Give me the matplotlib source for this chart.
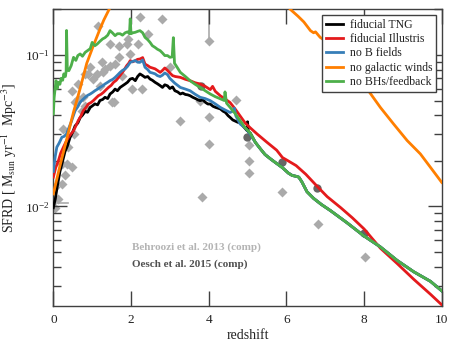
import numpy as np
import matplotlib
matplotlib.use("Agg")
import matplotlib.pyplot as plt

plt.rcParams['font.family'] = 'serif'
plt.rcParams['font.serif'] = ['Liberation Serif', 'DejaVu Serif']
plt.rcParams['mathtext.fontset'] = 'stix'

# ---------------- data ----------------
z_tng = [0.00, 0.05, 0.10, 0.17, 0.23, 0.30, 0.36, 0.43, 0.50, 0.56, 0.63, 0.69, 0.75, 0.82, 0.88,
         0.95, 1.01, 1.07, 1.14, 1.20, 1.27, 1.33, 1.40, 1.46, 1.53, 1.59, 1.65, 1.72, 1.78, 1.85,
         1.91, 1.98, 2.04, 2.11, 2.17, 2.23, 2.30, 2.36, 2.43, 2.49, 2.55, 2.62, 2.68, 2.75, 2.81,
         2.87, 2.94, 3.00, 3.07, 3.13, 3.20, 3.27, 3.33, 3.40, 3.46, 3.52, 3.59, 3.66, 3.72, 3.78,
         3.85, 3.92, 3.98, 4.04, 4.11, 4.18, 4.24, 4.30, 4.37, 4.43, 4.50, 4.56, 4.62, 4.69, 4.75,
         4.81, 4.88, 4.95, 4.99, 5.00, 5.02,
         5.07, 5.20, 5.33, 5.45, 5.60, 5.75, 5.90, 6.05, 6.15, 6.25, 6.32, 6.40, 6.53, 6.70, 6.90,
         7.13, 7.56, 7.99, 8.42, 8.85, 9.28, 9.71, 10.0]
sfrd_tng = [0.0098, 0.0112, 0.0135, 0.0170, 0.0195, 0.0230, 0.0250, 0.0285, 0.0310, 0.0340, 0.0355,
            0.0385, 0.0400, 0.0425, 0.0418, 0.0450, 0.0462, 0.0475, 0.0468, 0.0500, 0.0508, 0.0525,
            0.0515, 0.0552, 0.0570, 0.0595, 0.0580, 0.0610, 0.0625, 0.0643, 0.0660, 0.0693, 0.0700,
            0.0676, 0.0720, 0.0749, 0.0730, 0.0711, 0.0720, 0.0693, 0.0680, 0.0659, 0.0645, 0.0627,
            0.0610, 0.0635, 0.0625, 0.0600, 0.0615, 0.0580, 0.0570, 0.0552, 0.0560, 0.0548, 0.0545,
            0.0538, 0.0525, 0.0515, 0.0505, 0.0499, 0.0505, 0.0485, 0.0474, 0.0474, 0.0458, 0.0450,
            0.0445, 0.0440, 0.0425, 0.0417, 0.0397, 0.0385, 0.0372, 0.0365, 0.0359, 0.0359, 0.0340,
            0.0325, 0.0316, 0.0362, 0.0310,
            0.0305, 0.0265, 0.0240, 0.0220, 0.0205, 0.0192, 0.0180, 0.0166, 0.0160, 0.0158, 0.0156,
            0.0145, 0.0125, 0.0113, 0.0103, 0.0094, 0.0078, 0.0064, 0.0054, 0.0044, 0.0037, 0.0032,
            0.00277]

z_ill = [0.00, 0.06, 0.13, 0.19, 0.26, 0.32, 0.39, 0.45, 0.52, 0.58, 0.64, 0.71, 0.77, 0.84, 0.90,
         0.97, 1.03, 1.10, 1.16, 1.23, 1.29, 1.36, 1.42, 1.49, 1.55, 1.62, 1.68, 1.75, 1.81, 1.89,
         1.94, 1.98, 2.04, 2.11, 2.17, 2.23, 2.30, 2.36, 2.43, 2.49, 2.55, 2.62, 2.68, 2.75, 2.81,
         2.87, 2.94, 3.00, 3.07, 3.14, 3.27, 3.40, 3.52, 3.65, 3.78, 3.91, 4.04, 4.10, 4.17, 4.30,
         4.43, 4.55, 4.68, 4.81, 4.94, 5.07, 5.25, 5.50, 5.75, 5.90, 6.00, 6.25, 6.50, 6.80, 7.05,
         7.40, 7.70, 8.00, 8.42, 8.85, 9.28, 9.71, 10.0]
sfrd_ill = [0.0156, 0.0180, 0.0200, 0.0225, 0.0246, 0.0265, 0.0286, 0.0300, 0.0316, 0.0340, 0.0368,
            0.0395, 0.0428, 0.0450, 0.0474, 0.0485, 0.0499, 0.0520, 0.0538, 0.0550, 0.0566, 0.0590,
            0.0610, 0.0630, 0.0659, 0.0680, 0.0711, 0.0750, 0.0787, 0.0850, 0.0880, 0.0917, 0.0900,
            0.0917, 0.0935, 0.0940, 0.0960, 0.0870, 0.0850, 0.0829, 0.0820, 0.0809, 0.0790, 0.0767,
            0.0790, 0.0820, 0.0790, 0.0760, 0.0730, 0.0720, 0.0711, 0.0690, 0.0676, 0.0655, 0.0643,
            0.0620, 0.0590, 0.0620, 0.0575, 0.0537, 0.0510, 0.0485, 0.0440, 0.0395, 0.0355, 0.0330,
            0.0300, 0.0265, 0.0235, 0.0210, 0.0203, 0.0186, 0.0163, 0.0135, 0.0116, 0.0098, 0.0084,
            0.0071, 0.0053, 0.0042, 0.0033, 0.00263, 0.00224]

z_nob = [0.00, 0.05, 0.09, 0.15, 0.22, 0.28, 0.34, 0.40, 0.46, 0.52, 0.56, 0.63, 0.69, 0.75, 0.82,
         0.88, 0.95, 1.01, 1.07, 1.14, 1.20, 1.27, 1.33, 1.40, 1.46, 1.53, 1.59, 1.65, 1.72, 1.78,
         1.85, 1.91, 1.98, 2.04, 2.11, 2.17, 2.23, 2.30, 2.36, 2.43, 2.49, 2.55, 2.62, 2.68, 2.75,
         2.81, 2.87, 2.94, 3.00, 3.13, 3.27, 3.40, 3.52, 3.65, 3.78, 3.91, 4.04, 4.17, 4.30, 4.43,
         4.55, 4.62, 4.66, 4.70, 4.81, 4.94,
         5.07, 5.20, 5.33, 5.45, 5.60, 5.75, 5.90, 6.05, 6.15, 6.25, 6.32, 6.40, 6.53, 6.70, 6.90,
         7.13, 7.56, 7.99, 8.42, 8.85, 9.28, 9.71, 10.0]
sfrd_nob = [0.0170, 0.0215, 0.0246, 0.0262, 0.0286, 0.0290, 0.0301, 0.0330, 0.0360, 0.0400, 0.0428,
            0.0455, 0.0486, 0.0505, 0.0525, 0.0540, 0.0552, 0.0565, 0.0580, 0.0595, 0.0610, 0.0625,
            0.0643, 0.0660, 0.0676, 0.0690, 0.0710, 0.0735, 0.0767, 0.0790, 0.0809, 0.0840, 0.0893,
            0.0905, 0.0917, 0.0895, 0.0893, 0.0925, 0.0829, 0.0800, 0.0767, 0.0760, 0.0750, 0.0730,
            0.0720, 0.0735, 0.0760, 0.0740, 0.0700, 0.0650, 0.0610, 0.0595, 0.0580, 0.0550, 0.0525,
            0.0515, 0.0499, 0.0475, 0.0450, 0.0432, 0.0417, 0.0425, 0.0445, 0.0395, 0.0350, 0.0330,
            0.0300, 0.0265, 0.0240, 0.0220, 0.0205, 0.0192, 0.0180, 0.0166, 0.0160, 0.0158, 0.0156,
            0.0145, 0.0125, 0.0113, 0.0103, 0.0094, 0.0078, 0.0064, 0.0054, 0.0044, 0.0037, 0.0032,
            0.00277]

z_nowind = [0.00, 0.17, 0.34, 0.52, 0.69, 0.86, 1.03, 1.20, 1.30, 1.42, 1.50, np.nan,
            6.00, 6.10, 6.30, 6.45, 6.62, 6.70, 6.75, 6.87, 7.00, 8.08, 8.42, 8.76, 9.11, 9.45,
            9.71, 10.0]
sfrd_nowind = [0.0121, 0.0185, 0.0275, 0.0420, 0.0600, 0.0880, 0.1150, 0.1480, 0.1700, 0.1960,
               0.2150, np.nan,
               0.2150, 0.2000, 0.1800, 0.1650, 0.1446, 0.1400, 0.1420, 0.1306, 0.1240, 0.0596,
               0.0450, 0.0350, 0.0272, 0.0222, 0.0181, 0.0144]

z_nobh = [0.00, 0.02, 0.04, 0.07, 0.10, 0.13, 0.17, 0.20, 0.24, 0.27, 0.31, 0.33, 0.34, 0.36, 0.40,
          0.46, 0.52, 0.58, 0.63, 0.69, 0.75, 0.82, 0.88, 0.95, 1.00, 1.07, 1.13, 1.20, 1.27, 1.33,
          1.40, 1.46, 1.52, 1.59, 1.65, 1.72, 1.78, 1.85, 1.91, 1.96, 1.98, 2.00, 2.05, 2.11, 2.17,
          2.23, 2.30, 2.36, 2.43, 2.49, 2.55, 2.62, 2.68, 2.75, 2.81, 2.87, 2.94, 3.00, 3.06, 3.09,
          3.12, 3.16, 3.27, 3.40, 3.52, 3.65, 3.78, 3.91, 4.04, 4.17, 4.30, 4.40, 4.42, 4.46, 4.55,
          4.68, 4.81, 4.94,
          5.07, 5.20, 5.33, 5.45, 5.60, 5.75, 5.90, 6.05, 6.15, 6.25, 6.32, 6.40, 6.53, 6.70, 6.90,
          7.13, 7.56, 7.99, 8.42, 8.85, 9.28, 9.71, 10.0]
sfrd_nobh = [0.0407, 0.0520, 0.0580, 0.0676, 0.0600, 0.0660, 0.0640, 0.0700, 0.0680, 0.0750, 0.0720,
             0.0780, 0.1450, 0.0800, 0.0787, 0.0850, 0.0964, 0.0920, 0.0990, 0.1015, 0.0980, 0.1040,
             0.1067, 0.1100, 0.1210, 0.1150, 0.1180, 0.1230, 0.1276, 0.1300, 0.1350, 0.1446, 0.1400,
             0.1340, 0.1380, 0.1380, 0.1350, 0.1400, 0.1420, 0.1380, 0.1730, 0.1380, 0.1400, 0.1410,
             0.1430, 0.1446, 0.1400, 0.1306, 0.1260, 0.1210, 0.1150, 0.1120, 0.1090, 0.1067, 0.1030,
             0.0990, 0.0990, 0.0964, 0.0970, 0.1300, 0.0880, 0.0850, 0.0767, 0.0720, 0.0676, 0.0640,
             0.0610, 0.0580, 0.0552, 0.0530, 0.0513, 0.0500, 0.0570, 0.0480, 0.0451, 0.0410, 0.0368,
             0.0330,
             0.0305, 0.0265, 0.0240, 0.0220, 0.0205, 0.0192, 0.0180, 0.0166, 0.0160, 0.0158, 0.0156,
             0.0145, 0.0125, 0.0113, 0.0103, 0.0094, 0.0078, 0.0064, 0.0054, 0.0044, 0.0037, 0.0032,
             0.00277]

behroozi_z = [0.04, 0.13, 0.05, 0.22, 0.30, 0.47, 0.22, 0.34, 0.39, 0.26, 0.52, 0.47, 0.64, 0.77,
              0.82, 0.82, 0.95, 1.03, 1.16, 1.25, 1.29, 1.46, 1.55, 1.68, 1.76, 1.89, 2.02, 2.23,
              2.28, 2.45, 2.79, 3.00, 3.27, 3.78, 3.82, 4.02, 4.02, 4.02, 4.71, 5.03, 5.03, 5.03,
              5.90, 6.81, 8.02, 0.56, 0.64, 0.73, 1.12, 1.33, 1.46, 1.59, 1.20, 1.50, 1.68, 1.98,
              2.19, 1.93, 0.90]
behroozi_sfrd = [0.0098, 0.0112, 0.0134, 0.0140, 0.0160, 0.0181, 0.0190, 0.0190, 0.0246, 0.0324,
                 0.0300, 0.0580, 0.0643, 0.0525, 0.0462, 0.0748, 0.0830, 0.0693, 0.1560, 0.0893,
                 0.0767, 0.1180, 0.0487, 0.1150, 0.0730, 0.1180, 0.0596, 0.1770, 0.0596, 0.1380,
                 0.1730, 0.0830, 0.0368, 0.0500, 0.0116, 0.1240, 0.0387, 0.0258, 0.0505, 0.0255,
                 0.0200, 0.0165, 0.0125, 0.0076, 0.0046, 0.0487, 0.0512, 0.0428, 0.0748, 0.0809,
                 0.0850, 0.0872, 0.0627, 0.0487, 0.0964, 0.1015, 0.1180, 0.1276, 0.0748]

oesch_z = [3.80, 4.98, 5.90, 6.80, 8.00]
oesch_sfrd = [0.0627, 0.0286, 0.0197, 0.0132, 0.0067]

labels = ['fiducial TNG', 'fiducial Illustris', 'no B fields', 'no galactic winds', 'no BHs/feedback']
colors = ['#000000', '#e41a1c', '#377eb8', '#ff7f00', '#4daf4a']

# ---------------- plot ----------------
fig = plt.figure(figsize=(4.52, 3.5), dpi=100)
ax = fig.add_axes([0.118, 0.1257, 0.8593, 0.8477])

ax.plot(behroozi_z, behroozi_sfrd, ls='none', marker='D', ms=5.5, mfc='#aaaaaa', mec='none', zorder=1)
ax.plot([0.0, 0.38], [0.0106, 0.0106], color='#aaaaaa', lw=1.2, zorder=1)
ax.plot([4.02, 4.02], [0.124, 0.25], color='#aaaaaa', lw=1.2, zorder=1)
ax.plot(oesch_z, oesch_sfrd, ls='none', marker='o', ms=6, mfc='#666666', mec='none', zorder=1)

series = [(z_tng, sfrd_tng), (z_ill, sfrd_ill), (z_nob, sfrd_nob), (z_nowind, sfrd_nowind), (z_nobh, sfrd_nobh)]
handles = []
for (zz, ss), lab, c in zip(series, labels, colors):
    h, = ax.plot(zz, ss, color=c, lw=2.0, label=lab, zorder=3)
    handles.append(h)

ax.set_yscale('log')
ax.set_xlim(0, 10)
ax.set_ylim(2.2e-3, 0.2)
ax.set_xticks([0, 2, 4, 6, 8, 10])

spine_col = '#404040'
for s in ax.spines.values():
    s.set_color(spine_col)
    s.set_linewidth(1.0)
ax.tick_params(which='both', direction='in', top=True, right=True, colors=spine_col,
               labelcolor='#222222', labelsize=9.5)
ax.tick_params(axis='x', which='major', length=11, width=1.0, pad=6)
ax.tick_params(axis='y', which='major', length=10, width=1.0, pad=3)
ax.tick_params(axis='y', which='minor', length=6, width=1.0)
ax.tick_params(axis='x', which='minor', length=0)

ax.set_xlabel('redshift', fontsize=10, color='#222222', labelpad=2)
ax.set_ylabel(r'SFRD [ M$_{\rm sun}$ yr$^{-1}$  Mpc$^{-3}$]', fontsize=10, color='#222222', labelpad=4)

ax.text(2.02, 0.00536, 'Behroozi et al. 2013 (comp)', fontsize=8, fontweight='bold',
        color='#b4b4b4', va='center', ha='left')
ax.text(2.02, 0.00417, 'Oesch et al. 2015 (comp)', fontsize=8, fontweight='bold',
        color='#505050', va='center', ha='left')

leg = ax.legend(handles=handles, loc='upper right', fontsize=8.5, frameon=True, fancybox=False,
                framealpha=1, edgecolor=spine_col, handlelength=1.45, labelspacing=0.2,
                borderpad=0.3, handletextpad=0.6, borderaxespad=0.5)
leg.get_frame().set_linewidth(1.0)
for t in leg.get_texts():
    t.set_color('#222222')

fig.savefig('out.png', dpi=100)
